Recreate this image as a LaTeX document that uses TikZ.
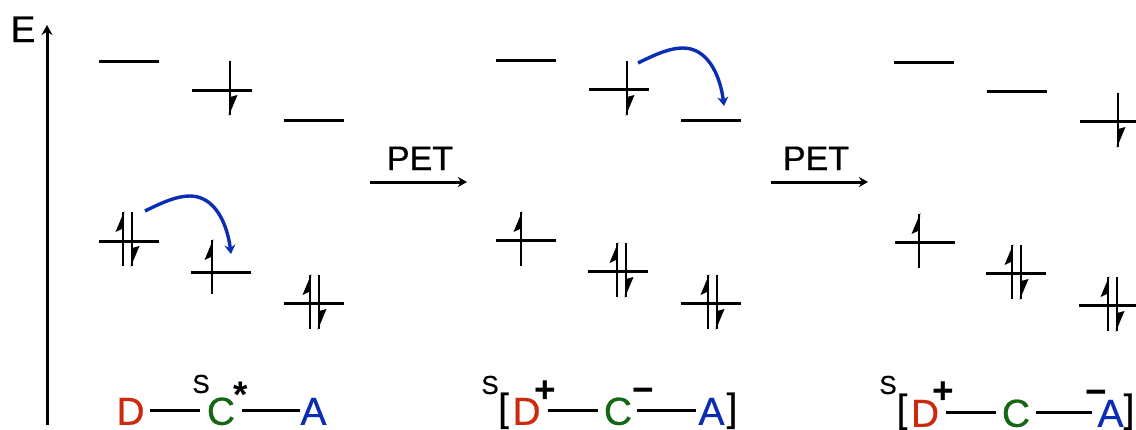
\documentclass[tikz,border=0pt]{standalone}
\usepackage{fontspec}
\setmainfont{Liberation Sans}
\newfontfamily\hv[FakeBold=0.6]{Liberation Sans}
\usetikzlibrary{arrows.meta}
\definecolor{dred}{HTML}{CC2A0E}
\definecolor{cgreen}{HTML}{156615}
\definecolor{ablue}{HTML}{0A2DB4}
\tikzset{
  x=1pt,y=-1pt,
  level/.style={line width=3pt,black},
  spin/.style={line width=2.8pt,black},
  barb/.style={fill=black,draw=none},
  bond/.style={line width=3pt,black},
  axisarrow/.style={draw=black,line width=3pt,-{Stealth[length=10pt,width=11pt]}},
  petarrow/.style={draw=black,line width=3pt,-{Stealth[length=9pt,width=10pt]}},
  hop/.style={line width=3.4pt,ablue,-{Stealth[length=9pt,width=11pt]}},
  big/.style={inner sep=0pt,anchor=south,text height=28pt,text depth=0pt,font=\hv\fontsize{39}{39}\selectfont},
  sup/.style={inner sep=0pt,font=\hv\fontsize{26}{26}\selectfont},
  charge/.style={inner sep=0pt,font=\bfseries\fontsize{37}{37}\selectfont},
}
% level: name, x centre, y
\newcommand{\lev}[3]{\coordinate (#1) at (#2,#3);
  \draw[level] ([xshift=-30pt]#1) -- ([xshift=30pt]#1);}
% up electron: level, dx, top offset
\newcommand{\eup}[3]{\begin{scope}[shift={(#1)}]
  \draw[spin] (#2,#3) -- (#2,#3+54);
  \fill[barb] (#2+1.3,#3-1) -- (#2-7.5,#3+20) -- (#2,#3+16.5) -- cycle;
  \end{scope}}
% down electron: level, dx, top offset
\newcommand{\edown}[3]{\begin{scope}[shift={(#1)}]
  \draw[spin] (#2,#3) -- (#2,#3+54);
  \fill[barb] (#2-1.3,#3+55) -- (#2+7.5,#3+34) -- (#2,#3+36) -- cycle;
  \end{scope}}
\begin{document}
\begin{tikzpicture}
\useasboundingbox (0,0) rectangle (1136,429);
% axis
\node[inner sep=0pt,font=\hv\fontsize{37}{37}\selectfont,anchor=base] (E) at (23,42) {E};
\coordinate (axisbottom) at (47,425);
\coordinate (axistop) at (47,25);
\draw[axisarrow] (axisbottom) -- (axistop);
% panel 1
\lev{a1}{129}{61}\lev{a2}{222}{90}\lev{a3}{314}{120}
\lev{a4}{129}{241}\lev{a5}{221}{272}\lev{a6}{314}{303}
\eup{a4}{-6}{-29}\edown{a4}{3}{-29}
\eup{a5}{-9}{-32}
\eup{a6}{-4}{-28}\edown{a6}{5}{-28}
\edown{a2}{8}{-29}
% panel 2
\lev{b1}{526}{60}\lev{b2}{619}{89}\lev{b3}{711}{120}
\lev{b4}{526}{240}\lev{b5}{618}{271}\lev{b6}{711}{303}
\edown{b2}{8}{-28}
\eup{b4}{-5}{-28}
\eup{b5}{-1}{-28}\edown{b5}{8}{-28}
\eup{b6}{-3}{-28}\edown{b6}{6}{-28}
% panel 3
\lev{c1}{924}{62}\lev{c2}{1017}{91}\lev{c3}{1110}{121}
\lev{c4}{925}{242}\lev{c5}{1016}{273}\lev{c6}{1109}{305}
\edown{c3}{8}{-28}
\eup{c4}{-6}{-28}
\eup{c5}{-4}{-28}\edown{c5}{5}{-28}
\eup{c6}{-1}{-28}\edown{c6}{8}{-28}
% electron transfers
\coordinate (h1s) at (145,211);\coordinate (h1e) at (231,254);
\draw[hop] (h1s) .. controls (165,201) and (178,196) .. (190,196)
  .. controls (214,196) and (227,222) .. (h1e);
\coordinate (h2s) at (638,63);\coordinate (h2e) at (724,106);
\draw[hop] (h2s) .. controls (658,53) and (671,48) .. (683,48)
  .. controls (707,48) and (720,74) .. (h2e);
% PET
\node[inner sep=0pt,anchor=base,font=\hv\fontsize{34}{34}\selectfont] (pet1) at (420,170) {PET};
\coordinate (p1s) at (370,182);\coordinate (p1e) at (467,182);
\draw[petarrow] (p1s) -- (p1e);
\node[inner sep=0pt,anchor=base,font=\hv\fontsize{34}{34}\selectfont] (pet2) at (816,170) {PET};
\coordinate (p2s) at (771,182);\coordinate (p2e) at (868,182);
\draw[petarrow] (p2s) -- (p2e);
% labels panel 1
\node[big,text=dred] (D1) at (130.5,425) {D};
\node[big,text=cgreen] (C1) at (221,425) {C};
\node[big,text=ablue] (A1) at (313.5,425) {A};
\node[sup] (S1) at (201,384) {S};
\node[charge] (st) at (241,395) {*};
\draw[bond,shorten <=5pt,shorten >=7pt] (D1.east) -- (C1.west);
\draw[bond,shorten <=7pt] (C1.east) -- (A1.west);
% labels panel 2
\node[sup] (S2) at (490,385) {S};
\node[big,text=black] (LB2) at (503.5,421) {[};
\node[big,text=dred] (D2) at (526.5,425) {D};
\node[charge] (pl2) at (545.5,392) {+};
\node[big,text=cgreen] (C2) at (618,425) {C};
\node[charge] (mi2) at (643,395) {−};
\node[big,text=ablue] (A2) at (711.5,425) {A};
\node[big,text=black] (RB2) at (732,421) {]};
\draw[bond,shorten <=7pt,shorten >=6pt] (D2.east) -- (C2.west);
\draw[bond,shorten <=5pt,shorten >=2pt] (C2.east) -- (A2.west);
% labels panel 3
\node[sup] (S3) at (888,385) {S};
\node[big,text=black] (LB3) at (902,422) {[};
\node[big,text=dred] (D3) at (925,427) {D};
\node[charge] (pl3) at (943.5,393) {+};
\node[big,text=cgreen] (C3) at (1016,427) {C};
\node[charge] (mi3) at (1096,397) {−};
\node[big,text=ablue] (A3) at (1110.5,427) {A};
\node[big,text=black] (RB3) at (1129,422) {]};
\draw[bond,shorten <=7pt,shorten >=6pt] (D3.east) -- (C3.west);
\draw[bond,shorten <=6pt,shorten >=5pt] (C3.east) -- (A3.west);
\end{tikzpicture}
\end{document}
